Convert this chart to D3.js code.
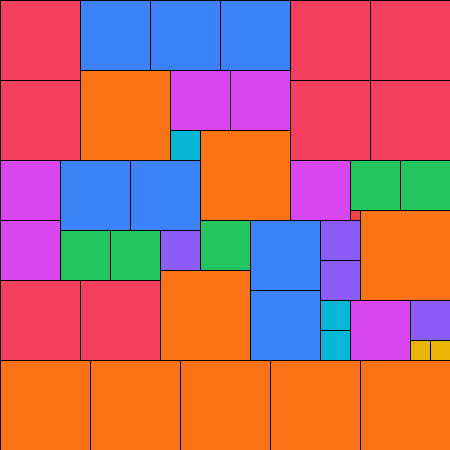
<!DOCTYPE html>
<html>
<head>
<meta charset="utf-8">
<script src="https://cdn.jsdelivr.net/npm/d3@7"></script>
<style>
  html, body { margin: 0; padding: 0; background: #fff; }
  svg { display: block; }
</style>
</head>
<body>
<div id="chart"></div>
<script>
// Partridge tiling, n = 9: k squares of side k, in a 45 x 45 grid
var w = 450;
var h = 450;
var gridSize = 45;

// side of each square (grid units)
var sizes = [9, 9, 9, 9, 9, 9, 9, 9, 9,
             8, 8, 8, 8, 8, 8, 8, 8,
             7, 7, 7, 7, 7, 7, 7,
             6, 6, 6, 6, 6, 6,
             5, 5, 5, 5, 5,
             4, 4, 4, 4,
             3, 3, 3,
             2, 2,
             1];
// column of top-left corner (grid units)
var cols = [8, 20, 36, 16, 0, 9, 18, 27, 36,
            0, 29, 37, 0, 29, 37, 0, 8,
            8, 15, 22, 6, 13, 25, 25,
            17, 23, 0, 0, 29, 35,
            35, 40, 6, 11, 20,
            16, 32, 32, 41,
            17, 32, 32,
            41, 43,
            35];
// row of top-left corner (grid units)
var rows = [7, 13, 21, 27, 36, 36, 36, 36, 36,
            0, 0, 0, 8, 8, 8, 28, 28,
            0, 0, 0, 16, 16, 22, 29,
            7, 7, 16, 22, 16, 30,
            16, 16, 23, 23, 22,
            23, 22, 26, 30,
            13, 30, 33,
            34, 34,
            21];

var sizeKeys = [9, 8, 7, 6, 5, 4, 3, 2, 1];
var sizeColors = ['#f97316', '#f43f5e', '#3b82f6', '#d946ef', '#22c55e', '#8b5cf6', '#06b6d4', '#eab308', '#ef4444'];

var squares = sizes.map((s, i) => ({size: s, col: cols[i], row: rows[i]}));

var xScale = d3.scaleLinear().domain([0, gridSize]).range([0, w]);
var yScale = d3.scaleLinear().domain([0, gridSize]).range([0, h]);
var color = d3.scaleOrdinal().domain(sizeKeys).range(sizeColors);

var svg = d3.select('#chart')
    .append('svg')
    .attr('width', w)
    .attr('height', h);

svg.selectAll('.tile')
    .data(squares)
    .enter()
    .append('rect')
    .attr('class', 'tile')
    .attr('x', d => xScale(d.col))
    .attr('y', d => yScale(d.row))
    .attr('width', d => xScale(d.size))
    .attr('height', d => yScale(d.size))
    .attr('fill', d => color(d.size))
    .attr('stroke', '#000')
    .attr('stroke-width', 1)
    .attr('shape-rendering', 'crispEdges')
    .append('title')
    .text(d => d.size + ' x ' + d.size);
</script>
</body>
</html>
